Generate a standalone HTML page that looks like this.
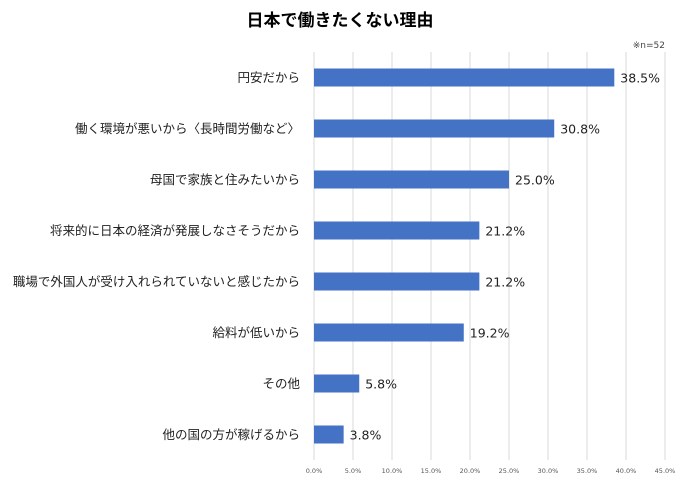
<!DOCTYPE html>
<html><head><meta charset="utf-8"><style>
body{margin:0;background:#fff;font-family:"Liberation Sans","Noto Sans CJK JP",sans-serif;}
</style></head><body>
<svg width="690" height="480" id="c" xmlns="http://www.w3.org/2000/svg">
<text x="340" y="26" text-anchor="middle" font-size="17" font-weight="bold" font-family="Liberation Sans,Noto Sans CJK JP,sans-serif">日本で働きたくない理由</text>
<text x="665" y="48" text-anchor="end" font-size="9" fill="#444" font-family="DejaVu Sans,Noto Sans CJK JP,sans-serif">※n=52</text>
<g id="grid"></g><g id="bars"></g>
</svg>
<script>
const categories=["円安だから","働く環境が悪いから〈長時間労働など〉","母国で家族と住みたいから","将来的に日本の経済が発展しなさそうだから","職場で外国人が受け入れられていないと感じたから","給料が低いから","その他","他の国の方が稼げるから"];
const values=[38.5,30.8,25.0,21.2,21.2,19.2,5.8,3.8];
const ticks=[0,5,10,15,20,25,30,35,40,45];
const ns="http://www.w3.org/2000/svg";
const x0=314,x1=665,xmax=45,yTop=52,yBot=460;
const xs=v=>x0+(x1-x0)*v/xmax;
const band=(yBot-yTop)/categories.length;
const yc=i=>yTop+band*(i+0.5);
const g=document.getElementById('grid'),b=document.getElementById('bars');
function mk(t,a,p){const e=document.createElementNS(ns,t);for(const k in a)e.setAttribute(k,a[k]);p.appendChild(e);return e;}
ticks.forEach(t=>{
 const l=mk('line',{x1:xs(t),x2:xs(t),y1:yTop,y2:yBot,stroke:'#d9d9d9','stroke-width':1},g);
 
 
 const tx=mk('text',{x:xs(t),y:473,'text-anchor':'middle','font-size':6.5,fill:'#555','font-family':'DejaVu Sans,sans-serif'},g);
 tx.textContent=t.toFixed(1)+'%';
 
 
});
categories.forEach((c,i)=>{
 const y=yc(i);
 const r=mk('rect',{x:x0,y:y-9,width:xs(values[i])-x0,height:18,fill:'#4472c4'},b);
 
 
 const lab=mk('text',{x:300,y:y+4.5,'text-anchor':'end','font-size':12.5,fill:'#222'},b);
 lab.textContent=c;
 
 
 const v=mk('text',{x:xs(values[i])+6,y:y+5,'font-size':12.5,fill:'#222','font-family':'DejaVu Sans,sans-serif'},b);
 v.textContent=values[i].toFixed(1)+'%';
 
 
});
</script>
</body></html>
